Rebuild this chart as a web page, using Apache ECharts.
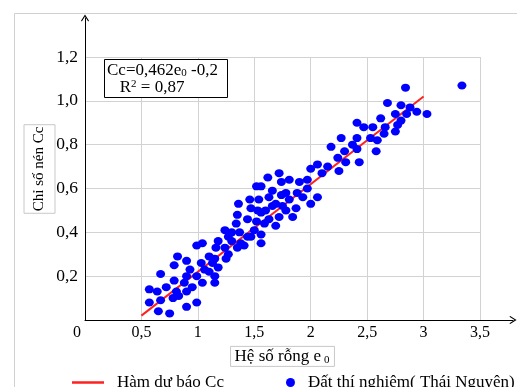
<!DOCTYPE html>
<html><head><meta charset="utf-8">
<script src="https://cdn.jsdelivr.net/npm/echarts@6/dist/echarts.min.js"></script>
<style>html,body{margin:0;padding:0;background:#fff}#c{width:517px;height:387px}</style>
</head><body><div id="c"></div>
<script>
// Data
const e0 = [0.99,1.04,0.82,0.90,0.79,1.03,0.67,0.93,0.90,0.99,0.79,0.88,1.04,0.72,0.57,0.64,0.81,0.95,0.83,0.90,0.78,0.67,0.57,0.90,0.99,0.65,0.75,
  1.52,1.46,1.36,1.54,1.47,1.53,1.35,1.44,1.52,1.34,1.50,1.24,1.30,1.37,1.27,1.44,1.30,1.38,1.41,1.18,1.16,1.24,1.35,1.27,1.10,1.15,1.25,1.13,1.18,1.06,1.10,1.15,1.15,
  1.72,1.62,1.74,1.81,2.00,1.90,1.97,1.56,1.66,1.78,1.88,1.97,1.63,1.74,1.81,1.93,1.69,2.00,1.75,1.60,1.66,1.87,1.78,1.56,1.72,1.84,1.63,1.59,1.69,1.56,1.47,1.56,2.06,
  2.41,2.47,2.27,2.41,2.18,2.37,2.41,2.30,2.24,2.31,2.43,2.06,2.15,2.25,2.10,
  2.84,2.68,2.80,2.88,2.94,2.85,3.03,2.75,2.62,2.80,2.77,2.66,2.55,2.65,2.75,2.53,2.59,2.58,3.34];
const cc = [0.34,0.35,0.29,0.27,0.25,0.26,0.21,0.23,0.20,0.20,0.18,0.17,0.17,0.15,0.14,0.13,0.13,0.15,0.11,0.13,0.10,0.09,0.08,0.06,0.08,0.04,0.03,
  0.61,0.55,0.53,0.55,0.51,0.50,0.48,0.46,0.45,0.44,0.41,0.41,0.40,0.40,0.38,0.38,0.36,0.35,0.34,0.36,0.33,0.33,0.33,0.30,0.29,0.28,0.28,0.26,0.24,0.23,0.22,0.20,0.17,
  0.67,0.65,0.63,0.64,0.69,0.63,0.64,0.61,0.59,0.58,0.58,0.60,0.56,0.57,0.55,0.56,0.53,0.53,0.52,0.50,0.52,0.51,0.50,0.49,0.47,0.47,0.46,0.44,0.43,0.39,0.38,0.35,0.56,
  0.90,0.88,0.83,0.83,0.79,0.80,0.78,0.77,0.74,0.72,0.72,0.71,0.70,0.68,0.67,
  1.06,0.99,0.98,0.97,0.95,0.94,0.94,0.94,0.92,0.91,0.89,0.88,0.88,0.85,0.86,0.83,0.82,0.77,1.07];
const fitE0 = [0.5, 3.0];
const fitCc = [0.02, 1.02];
const xTickLabels = ['0','0,5','1','1,5','2','2,5','3','3,5'];
const yTickLabels = ['','0,2','0,4','0,6','0,8','1,0','1,2'];
const seriesNames = ['Hàm dự báo Cc', 'Đất thí nghiệm( Thái Nguyên)'];
const xTitle = ['Hệ số rỗng e', '0'];
const yTitle = 'Chỉ số nén Cc';
const eqLine1 = ['Cc=0,462e', '0', ' -0,2'];
const eqLine2 = ['   R', '2', ' = 0,87'];

const FF = 'Liberation Serif, Times New Roman, serif';
const arrow = 'path://M5,0 L10,8 L9,9 L5,2.5 L1,9 L0,8 Z';
const chart = echarts.init(document.getElementById('c'), null, {renderer:'canvas'});
chart.setOption({
  animation: false,
  backgroundColor: '#fff',
  graphic: [{type:'rect', silent:true, z:-10, shape:{x:14.5,y:13.5,width:700,height:700}, style:{fill:'none', stroke:'#d0d0d0', lineWidth:1}}],
  title: {
    text: '{a|'+eqLine1[0]+'}{s|'+eqLine1[1]+'}{a|'+eqLine1[2]+'}\n{a|'+eqLine2[0]+'}{p|'+eqLine2[1]+'}{a|'+eqLine2[2]+'}',
    left: 104, top: 59, padding: [3, 10, 2, 3],
    borderColor: '#000', borderWidth: 1, backgroundColor: '#fff',
    textStyle: { fontWeight: 'normal', rich: {
      a: {fontFamily: FF, fontSize: 17, lineHeight: 17, color: '#000', fontWeight: 'normal'},
      s: {fontFamily: FF, fontSize: 11, lineHeight: 11, verticalAlign: 'bottom', color: '#000', fontWeight: 'normal'},
      p: {fontFamily: FF, fontSize: 11, lineHeight: 11, verticalAlign: 'top', color: '#000', fontWeight: 'normal'}
    }}
  },
  legend: [
    {data:[{name: seriesNames[0], icon:'rect'}], left: 67, top: 369, itemWidth: 32, itemHeight: 2.5,
     textStyle:{fontFamily: FF, fontSize: 17, color:'#000', padding:[0,0,0,8]}},
    {data:[{name: seriesNames[1], icon:'circle'}], left: 281, top: 369, itemWidth: 9, itemHeight: 9,
     textStyle:{fontFamily: FF, fontSize: 17, color:'#000', padding:[0,0,0,8]}}
  ],
  grid: [
    {left: 85, top: 57, width: 395, height: 263},
    {left: 85, top: 18, width: 428, height: 302}
  ],
  xAxis: [
    {gridIndex:0, type:'value', min:0, max:3.5, interval:0.5,
     axisLine:{show:false}, axisTick:{show:false},
     splitLine:{show:true, lineStyle:{color:'#d2d2d2', width:1}},
     axisLabel:{fontFamily: FF, fontSize: 16, color:'#000', margin: 5,
       formatter: v => { const i = Math.round(v/0.5); return i === 0 ? '{z|'+xTickLabels[i]+'}' : xTickLabels[i]; },
       rich:{z:{fontFamily: FF, fontSize: 16, color:'#000', padding:[0,16,0,0]}}},
     name: '{t|'+xTitle[0]+'}{s|'+xTitle[1]+'}', nameLocation:'middle', nameGap: 21,
     nameTextStyle:{borderColor:'#c8c8c8', borderWidth:1, padding:[1,5,1,4],
       rich:{t:{fontFamily: FF, fontSize: 17, color:'#000', lineHeight: 18},
             s:{fontFamily: FF, fontSize: 11, color:'#000', lineHeight: 11, verticalAlign:'bottom', padding:[0,0,0,3]}}}},
    {gridIndex:1, type:'value', min:0, max:3.79,
     axisLine:{show:true, lineStyle:{color:'#000', width:1}, symbol:['none', arrow], symbolSize:[8,9]},
     axisTick:{show:false}, axisLabel:{show:false}, splitLine:{show:false}}
  ],
  yAxis: [
    {gridIndex:0, type:'value', min:0, max:1.2, interval:0.2,
     axisLine:{show:false}, axisTick:{show:false},
     splitLine:{show:true, lineStyle:{color:'#d2d2d2', width:1}},
     axisLabel:{fontFamily: FF, fontSize: 17.5, color:'#000', margin: 7,
       formatter: v => yTickLabels[Math.round(v/0.2)]}},
    {gridIndex:1, type:'value', min:0, max:1.376,
     axisLine:{show:true, lineStyle:{color:'#000', width:1}, symbol:['none', arrow], symbolSize:[8,9]},
     axisTick:{show:false}, axisLabel:{show:false}, splitLine:{show:false},
     name: yTitle, nameLocation:'middle', nameRotate: 90, nameGap: 30,
     nameTextStyle:{fontFamily: FF, fontSize: 15, color:'#000', borderColor:'#c8c8c8', borderWidth:1, padding:[8,2,8,2]}}
  ],
  series: [
    {type:'line', name: seriesNames[0], xAxisIndex:0, yAxisIndex:0, z:2,
     data: fitE0.map((x,i)=>[x, fitCc[i]]), symbol:'none',
     lineStyle:{color:'#ff2020', width:2}, itemStyle:{color:'#ff2020'}},
    {type:'scatter', name: seriesNames[1], xAxisIndex:0, yAxisIndex:0, z:3,
     data: e0.map((x,i)=>[x, cc[i]]), symbolSize:[9,8],
     itemStyle:{color:'#0000ff', opacity:1}}
  ]
});
</script></body></html>
